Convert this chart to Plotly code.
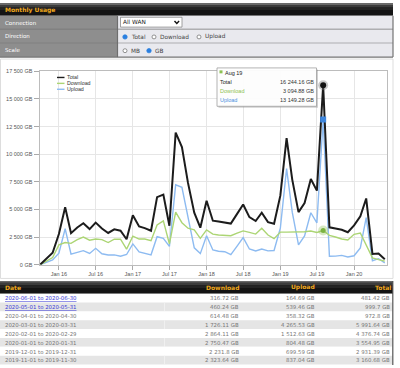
import calendar
import pandas as pd
import plotly.graph_objects as go

W, H = 400, 368

# ---------------- data ----------------
months = pd.date_range("2015-10-01", "2020-06-01", freq="MS")

total = [20, 550, 1080, 2780, 5200, 2850, 3370, 3750, 3220, 3810, 3280, 2870,
         3200, 3070, 2300, 4480, 3460, 3310, 3070, 6110, 6340, 3520, 11950, 10650,
         7400, 4700, 3350, 5780, 3980, 3900, 3800, 3720, 4600, 5450, 4300, 3950,
         4700, 3850, 3700, 6250, 11460, 7700, 4760, 5580, 7750, 6700, 16244.16, 3380,
         3280, 3160.68, 2931.39, 3554.95, 4376.74, 5991.64, 972.8, 999.7, 481.42]
download = [0, 320, 650, 1790, 2000, 1930, 2270, 2500, 2220, 2320, 2270, 2000,
            2300, 2300, 1400, 2580, 2320, 2320, 2170, 3600, 3960, 1880, 4760, 3800,
            3300, 3150, 2380, 3150, 2770, 2680, 2620, 2620, 2850, 3060, 2920, 2770,
            3300, 2680, 2350, 2950, 2950, 2950, 2950, 2980, 3050, 2920, 3094.88, 2650,
            2500, 2323.64, 2231.8, 2750.47, 2864.11, 1726.11, 614.48, 460.24, 316.72]
upload = [0, 230, 430, 1040, 3250, 950, 1080, 1270, 1010, 1480, 990, 880,
          890, 770, 920, 1880, 1150, 1000, 890, 2530, 2380, 1660, 7230, 7000,
          4150, 1520, 1000, 2620, 1330, 1220, 1170, 900, 1680, 2450, 1420, 1240,
          1420, 1250, 1280, 3300, 8700, 4750, 1800, 2600, 4700, 3780, 13149.28, 760,
          770, 837.04, 699.59, 804.48, 1512.63, 4265.53, 358.32, 539.46, 164.69]

series_names = ["Total", "Download", "Upload"]
series_colors = ["#1c1c1c", "#acd574", "#8dbbf1"]

y_tickvals = [0, 2500, 5000, 7500, 10000, 12500, 15000, 17500]
y_ticktext = ["0 GB", "2 500 GB", "5 000 GB", "7 500 GB", "10 000 GB",
              "12 500 GB", "15 000 GB", "17 500 GB"]
x_tickvals = ["2016-01-01", "2016-07-01", "2017-01-01", "2017-07-01", "2018-01-01",
              "2018-07-01", "2019-01-01", "2019-07-01", "2020-01-01"]
x_ticktext = ["Jan 16", "Jul 16", "Jan 17", "Jul 17", "Jan 18",
              "Jul 18", "Jan 19", "Jul 19", "Jan 20"]

hover_month = "2019-08-01"
hover_label = "Aug 19"
table_rows = 8
link_rows = 2

title_text = "Monthly Usage"
form_labels = ["Connection", "Direction", "Scale"]
connection_value = "All WAN"
direction_options = ["Total", "Download", "Upload"]
scale_options = ["MB", "GB"]
table_headers = ["Date", "Download", "Upload", "Total"]


# ---------------- helpers ----------------
def X(px):
    return px / W


def Y(py):
    return 1 - py / H


def gb(v):
    s = f"{v:,.2f}".rstrip("0").rstrip(".")
    return s.replace(",", " ") + " GB"


shapes = []
annotations = []


def rect(x0, y0, x1, y1, fill, line=None, lw=0, layer="above"):
    shapes.append(dict(type="rect", xref="paper", yref="paper",
                       x0=X(x0), x1=X(x1), y0=Y(y1), y1=Y(y0),
                       fillcolor=fill, layer=layer,
                       line=dict(color=line or fill, width=lw)))


def hline(x0, x1, y, color, w=1):
    shapes.append(dict(type="line", xref="paper", yref="paper",
                       x0=X(x0), x1=X(x1), y0=Y(y), y1=Y(y),
                       line=dict(color=color, width=w)))


def vline(x, y0, y1, color, w=1):
    shapes.append(dict(type="line", xref="paper", yref="paper",
                       x0=X(x), x1=X(x), y0=Y(y0), y1=Y(y1),
                       line=dict(color=color, width=w)))


def circle(cx, cy, r, fill, line, lw=0.8):
    shapes.append(dict(type="circle", xref="paper", yref="paper",
                       x0=X(cx - r), x1=X(cx + r), y0=Y(cy + r), y1=Y(cy - r),
                       fillcolor=fill, line=dict(color=line, width=lw)))


def text(x, y, s, size=5.5, color="#333", anchor="left", bold=False,
         family="DejaVu Sans"):
    if bold:
        s = f"<b>{s}</b>"
    annotations.append(dict(xref="paper", yref="paper", x=X(x), y=Y(y),
                            text=s, showarrow=False, xanchor=anchor,
                            yanchor="middle", borderpad=0,
                            font=dict(size=size, color=color, family=family)))


def dark_bar(y0, y1):
    h = y1 - y0
    rect(0, y0, 393, y1, "#141414")
    rect(0, y0, 393, y0 + h * 0.15, "#6a6a6a")
    rect(0, y0 + h * 0.15, 393, y0 + h * 0.35, "#3c3c3c")
    rect(0, y0 + h * 0.35, 393, y0 + h * 0.55, "#242424")


# ---------------- form ----------------
dark_bar(0, 13)
text(3.5, 6.8, title_text, size=6, color="#f0a81c", bold=True)

row_edges = [13, 27, 41, 55]
for i, lab in enumerate(form_labels):
    y0, y1 = row_edges[i], row_edges[i + 1]
    rect(0, y0, 117.5, y1, "#8e8e8e")
    rect(117.5, y0, 393, y1, "#e9e9ee")
    hline(0, 393, y1, "#747474", 1.4)
    text(3.5, (y0 + y1) / 2, lab, size=5.5, color="#ffffff")
vline(117.5, 13, 55, "#6e6e6e", 1.2)
vline(393, 13, 55, "#747474", 1.2)

# dropdown
rect(120.5, 14.5, 182, 24.5, "#ffffff", "#8a8a8a", 0.8)
text(122, 19.6, connection_value, size=5.8, color="#222")
shapes.append(dict(type="path", xref="paper", yref="paper",
                   path=f"M {X(174.5)} {Y(18.3)} L {X(176.8)} {Y(20.8)} L {X(179.1)} {Y(18.3)}",
                   line=dict(color="#111", width=1.4)))

# direction radios
dir_x = [125, 154, 199]
for i, opt in enumerate(direction_options):
    cy = 34.5
    if i == 0:
        circle(dir_x[i], cy, 2.2, "#2a7fe0", "#2a7fe0")
    else:
        circle(dir_x[i], cy, 2.0, "#ffffff", "#777")
    text(dir_x[i] + 5, cy, opt, size=5.8, color="#444")

sc_x = [125, 149]
for i, opt in enumerate(scale_options):
    cy = 48.5
    if i == 1:
        circle(sc_x[i], cy, 2.2, "#2a7fe0", "#2a7fe0")
    else:
        circle(sc_x[i], cy, 2.0, "#ffffff", "#777")
    text(sc_x[i] + 5, cy, opt, size=5.8, color="#444")

# chart card border
rect(0.5, 57, 393, 280, "rgba(0,0,0,0)", "#d4d4d4", 0.8)

# ---------------- legend ----------------
leg_y = [75.7, 81.7, 87.7]
for i, nm in enumerate(series_names):
    hline(57, 64.5, leg_y[i], series_colors[i], 1.4)
    text(66, leg_y[i], nm, size=5.3, color="#333", family="Liberation Sans")

# ---------------- tooltip ----------------
hi = list(months).index(pd.Timestamp(hover_month))
rect(218.5, 67.5, 318, 106.5, "rgba(120,120,120,0.35)")
rect(217, 66, 316.5, 105, "rgba(255,255,255,0.95)", "#a0a0a0", 0.8)
rect(219.5, 68.5, 222.5, 71.5, "#8cc152")
text(223.5, 71.5, hover_label, size=5.5, color="#222", family="Liberation Sans")
tip_vals = [total[hi], download[hi], upload[hi]]
tip_cols = ["#222", "#8cc152", "#4a8fe0"]
for i, nm in enumerate(series_names):
    yy = 80.8 + 9 * i
    text(218.5, yy, nm, size=5.5, color=tip_cols[i], family="Liberation Sans")
    text(314.5, yy, gb(tip_vals[i]), size=5.5, color="#333", anchor="right",
         family="Liberation Sans")

# ---------------- table ----------------
dark_bar(282.5, 295.5)
hdr_x = [4, 240, 316, 391.5]
for i, hname in enumerate(table_headers):
    text(hdr_x[i], 289.2, hname, size=6, color="#f0a81c", bold=True,
         anchor="left" if i == 0 else "right")

for r in range(table_rows):
    idx = len(months) - 1 - r
    d = months[idx]
    last = calendar.monthrange(d.year, d.month)[1]
    date_lbl = f"{d:%Y-%m-%d} to {d.year}-{d.month:02d}-{last:02d}"
    y0 = 295.5 + 9 * r
    y1 = y0 + 9
    bg = "#ffffff" if r % 2 == 0 else "#e5e5e5"
    rect(0, y0, 392.5, y1, bg)
    if r % 2 == 1:
        vline(164.5, y0, y1, "#f2f2f2", 0.8)
    yc = (y0 + y1) / 2 + 0.3
    if r < link_rows:
        text(3.5, yc, f"<u>{date_lbl}</u>", size=5.4, color="#3b3bd6")
    else:
        text(3.5, yc, date_lbl, size=5.4, color="#777")
    text(240, yc, gb(download[idx]), size=5.4, color="#777", anchor="right")
    text(316, yc, gb(upload[idx]), size=5.4, color="#777", anchor="right")
    text(391, yc, gb(total[idx]), size=5.4, color="#777", anchor="right")
vline(392.8, 282.5, 368, "#555", 1.2)

# ---------------- traces ----------------
fig = go.Figure()
for nm, ys, col, w in [("Upload", upload, series_colors[2], 1.4),
                       ("Download", download, series_colors[1], 1.4),
                       ("Total", total, series_colors[0], 2.0)]:
    fig.add_trace(go.Scatter(x=months, y=ys, mode="lines", name=nm,
                             line=dict(color=col, width=w), hoverinfo="skip"))

hx = [months[hi]]
fig.add_trace(go.Scatter(x=hx, y=[download[hi]], mode="markers",
                         marker=dict(size=10, color="rgba(140,193,82,0.35)"),
                         hoverinfo="skip"))
fig.add_trace(go.Scatter(x=hx, y=[download[hi]], mode="markers",
                         marker=dict(size=5, color="#7cb342"), hoverinfo="skip"))
fig.add_trace(go.Scatter(x=hx, y=[upload[hi]], mode="markers",
                         marker=dict(size=6, color="#3d85dc", symbol="square"),
                         hoverinfo="skip"))
fig.add_trace(go.Scatter(x=hx, y=[total[hi]], mode="markers",
                         marker=dict(size=10, color="rgba(120,120,120,0.4)"),
                         hoverinfo="skip"))
fig.add_trace(go.Scatter(x=hx, y=[total[hi]], mode="markers",
                         marker=dict(size=6, color="#111"), hoverinfo="skip"))

tickfont = dict(family="Liberation Sans", size=5.5, color="#555")
fig.update_layout(
    width=W, height=H, autosize=False,
    margin=dict(l=0, r=0, t=0, b=0, pad=0),
    paper_bgcolor="#ffffff", plot_bgcolor="#ffffff",
    showlegend=False,
    shapes=shapes, annotations=annotations,
    xaxis=dict(domain=[X(39.5), X(387)], type="date",
               range=["2015-09-27", "2020-06-12"],
               tickmode="array", tickvals=x_tickvals, ticktext=x_ticktext,
               ticks="outside", ticklen=4, tickcolor="#aaa", tickwidth=1,
               showgrid=True, gridcolor="#e6e6e6", gridwidth=1,
               showline=True, linecolor="#bcbcbc", linewidth=1, mirror=True,
               zeroline=False, tickfont=tickfont, fixedrange=True),
    yaxis=dict(domain=[Y(266), Y(69.5)], range=[0, 17500],
               tickmode="array", tickvals=y_tickvals, ticktext=y_ticktext,
               ticks="outside", ticklen=5, tickcolor="#aaa", tickwidth=1,
               showgrid=True, gridcolor="#e6e6e6", gridwidth=1,
               showline=True, linecolor="#bcbcbc", linewidth=1, mirror=True,
               zeroline=False, tickfont=tickfont, fixedrange=True),
)

fig.write_html(
    "out.html",
    config={"displayModeBar": False},
    post_script="document.body.style.margin='0';document.body.style.overflow='hidden';",
)
